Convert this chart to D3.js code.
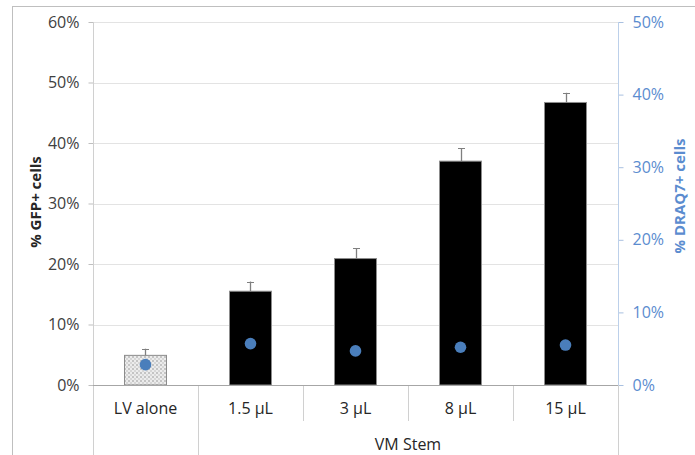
<html>
<head>
  <script src="https://d3js.org/d3.v7.min.js"></script>
  <style>
    body { margin: 0; background: #fff; }
    text { font-family: "Open Sans", "Noto Sans", sans-serif; }
  </style>
</head>
<body>
  <svg id="screen"></svg>
  <script>
    // chart values
    const categories = ['LV alone', '1.5 \u00b5L', '3 \u00b5L', '8 \u00b5L', '15 \u00b5L']
    const gfp = [0.049, 0.155, 0.209, 0.370, 0.467]
    const gfpErr = [0.011, 0.016, 0.017, 0.021, 0.016]
    const draq7 = [0.028, 0.057, 0.047, 0.052, 0.055]
    const leftTicks = [0, 0.1, 0.2, 0.3, 0.4, 0.5, 0.6]
    const rightTicks = [0, 0.1, 0.2, 0.3, 0.4, 0.5]
    const groupLabel = 'VM Stem'

    const W = 695, H = 455
    const plot = {left: 93, right: 618, top: 22, bottom: 385}

    let frame = d3.select('#screen').attr('width', W).attr('height', H)

    // pattern for the LV alone bar
    let defs = frame.append('defs')
    let pat = defs.append('pattern')
      .attr('id', 'checks').attr('patternUnits', 'userSpaceOnUse')
      .attr('width', 4).attr('height', 4)
    pat.append('rect').attr('width', 4).attr('height', 4).attr('fill', '#ececec')
    pat.append('rect').attr('width', 2).attr('height', 2).attr('fill', '#c4c4c4')
    pat.append('rect').attr('x', 2).attr('y', 2).attr('width', 2).attr('height', 2).attr('fill', '#d6d6d6')

    // outer chart border
    frame.append('rect')
      .attr('x', 12.5).attr('y', 6.5).attr('width', W).attr('height', H)
      .attr('fill', 'none').attr('stroke', '#bfbfbf')

    let x = d3.scaleBand().domain(categories)
      .range([plot.left, plot.right]).paddingInner(0.6).paddingOuter(0.3)
    let yL = d3.scaleLinear().domain([0, 0.6]).range([plot.bottom, plot.top])
    let yR = d3.scaleLinear().domain([0, 0.5]).range([plot.bottom, plot.top])
    let step = (plot.right - plot.left) / categories.length

    // gridlines
    frame.append('g').selectAll('line')
      .data(leftTicks.slice(1))
      .enter().append('line')
      .attr('x1', plot.left).attr('x2', plot.right)
      .attr('y1', d => Math.round(yL(d)) + 0.5).attr('y2', d => Math.round(yL(d)) + 0.5)
      .attr('stroke', '#e3e3e3')

    // left axis
    let gl = frame.append('g').attr('transform', `translate(${plot.left + 0.5},0)`)
      .call(d3.axisLeft(yL).tickValues(leftTicks).tickFormat(d3.format('.0%')).tickSize(5).tickPadding(9))
    gl.select('.domain').remove()
    gl.selectAll('.tick line').attr('stroke', '#bfbfbf')
    gl.selectAll('text').attr('fill', '#404040').style('font-size', '16px')
    frame.append('line')
      .attr('x1', plot.left + 0.5).attr('x2', plot.left + 0.5)
      .attr('y1', plot.top).attr('y2', H)
      .attr('stroke', '#d0d0d0')

    // right axis
    let gr = frame.append('g').attr('transform', `translate(${plot.right + 0.5},0)`)
      .call(d3.axisRight(yR).tickValues(rightTicks).tickFormat(d3.format('.0%')).tickSize(5).tickPadding(9))
    gr.select('.domain').remove()
    gr.selectAll('.tick line').attr('stroke', '#a9c0e0')
    gr.selectAll('text').attr('fill', '#5b8ccf').style('font-size', '16px')
    frame.append('line')
      .attr('x1', plot.right + 0.5).attr('x2', plot.right + 0.5)
      .attr('y1', plot.top).attr('y2', plot.bottom)
      .attr('stroke', '#bcd0ea')
    frame.append('line')
      .attr('x1', plot.right + 0.5).attr('x2', plot.right + 0.5)
      .attr('y1', plot.bottom).attr('y2', H)
      .attr('stroke', '#d0d0d0')

    // category dividers under the axis
    categories.forEach((c, i) => {
      if (i == 0) return
      let xx = Math.round(plot.left + step * i) + 0.5
      frame.append('line')
        .attr('x1', xx).attr('x2', xx)
        .attr('y1', plot.bottom).attr('y2', i == 1 ? H : 421)
        .attr('stroke', '#d0d0d0')
    })

    // bars
    frame.append('g').selectAll('rect')
      .data(gfp)
      .enter().append('rect')
      .attr('x', (d, i) => x(categories[i]))
      .attr('width', x.bandwidth())
      .attr('y', d => yL(d))
      .attr('height', d => yL(0) - yL(d))
      .attr('fill', (d, i) => i == 0 ? 'url(#checks)' : '#000')
      .attr('stroke', '#8c8c8c').attr('stroke-width', 1)

    // error bars (upper only)
    let eb = frame.append('g').selectAll('g')
      .data(gfp)
      .enter().append('g')
    eb.append('line')
      .attr('x1', (d, i) => Math.round(x(categories[i]) + x.bandwidth() / 2) + 0.5)
      .attr('x2', (d, i) => Math.round(x(categories[i]) + x.bandwidth() / 2) + 0.5)
      .attr('y1', d => yL(d))
      .attr('y2', (d, i) => yL(d + gfpErr[i]))
      .attr('stroke', '#7f7f7f').attr('stroke-width', 1.3)
    eb.append('line')
      .attr('x1', (d, i) => Math.round(x(categories[i]) + x.bandwidth() / 2) - 3)
      .attr('x2', (d, i) => Math.round(x(categories[i]) + x.bandwidth() / 2) + 4)
      .attr('y1', (d, i) => Math.round(yL(d + gfpErr[i])) + 0.5)
      .attr('y2', (d, i) => Math.round(yL(d + gfpErr[i])) + 0.5)
      .attr('stroke', '#7f7f7f').attr('stroke-width', 1)

    // baseline
    frame.append('line')
      .attr('x1', plot.left).attr('x2', plot.right)
      .attr('y1', plot.bottom + 0.5).attr('y2', plot.bottom + 0.5)
      .attr('stroke', '#a6a6a6')

    // DRAQ7 markers
    frame.append('g').selectAll('circle')
      .data(draq7)
      .enter().append('circle')
      .attr('cx', (d, i) => x(categories[i]) + x.bandwidth() / 2)
      .attr('cy', d => yR(d))
      .attr('r', 5.8)
      .attr('fill', '#4a7ebb')

    // category labels
    frame.append('g').selectAll('text')
      .data(categories)
      .enter().append('text')
      .attr('x', d => x(d) + x.bandwidth() / 2)
      .attr('y', 414)
      .attr('text-anchor', 'middle')
      .style('font-size', '16px').attr('fill', '#262626')
      .text(d => d)

    frame.append('text')
      .attr('x', (plot.left + step + plot.right) / 2)
      .attr('y', 450)
      .attr('text-anchor', 'middle')
      .style('font-size', '16px').attr('fill', '#262626')
      .text(groupLabel)

    // axis titles
    frame.append('text')
      .attr('transform', `translate(41,202) rotate(-90)`)
      .attr('text-anchor', 'middle')
      .style('font-size', '15px').style('font-weight', 'bold').attr('fill', '#262626')
      .text('% GFP+ cells')

    frame.append('text')
      .attr('transform', `translate(685,196) rotate(-90)`)
      .attr('text-anchor', 'middle')
      .style('font-size', '15px').style('font-weight', 'bold').attr('fill', '#5b8ccf')
      .text('% DRAQ7+ cells')
  </script>
</body>
</html>
